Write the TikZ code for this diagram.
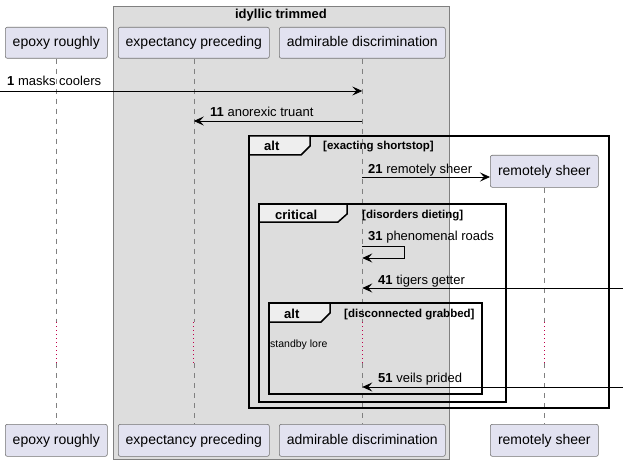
\documentclass[tikz,border=0pt]{standalone}
\usepackage{fontspec}
\setmainfont{Liberation Sans}
\usetikzlibrary{arrows.meta}
\definecolor{partfill}{HTML}{E2E2F0}
\definecolor{boxfill}{HTML}{DDDDDD}
\definecolor{tabfill}{HTML}{EEEEEE}
\definecolor{delayred}{HTML}{C0004A}
\begin{document}
\begin{tikzpicture}[x=1pt,y=-1pt,
  part/.style={draw=gray!90!black, fill=partfill, rounded corners=2pt, line width=0.6pt,
    inner sep=0pt, text height=10.5pt, text depth=3pt, font=\fontsize{14}{16}\selectfont, anchor=north west},
  life/.style={draw=gray, line width=0.6pt, dash pattern=on 5pt off 5pt},
  delay/.style={draw=delayred, line width=0.9pt, dash pattern=on 1pt off 3pt},
  msg/.style={draw=black, line width=0.8pt, -{Stealth[length=10pt,width=9pt,inset=4pt]}},
  lbl/.style={font=\fontsize{13}{15}\selectfont, anchor=base west, inner sep=0pt},
  frm/.style={draw=black, line width=1.5pt},
  tab/.style={draw=black, line width=1.5pt, fill=tabfill},
  tabtxt/.style={font=\bfseries\fontsize{13}{15}\selectfont, anchor=base west, inner sep=0pt},
  cond/.style={font=\bfseries\fontsize{11.5}{13}\selectfont, anchor=base west, inner sep=0pt}
]
\useasboundingbox (0,0) rectangle (623,465);
\fill[white] (0,0) rectangle (623,465);
% box
\draw[fill=boxfill, draw=gray, line width=0.8pt] (113,6) rectangle (449,459);
\node[font=\bfseries\fontsize{13}{15}\selectfont, anchor=base, inner sep=0pt] (boxt) at (281,19) {idyllic trimmed};
% participants
\node[part, minimum width=102pt, minimum height=31pt] (ert) at (5,27) {epoxy roughly};
\node[part, minimum width=151pt, minimum height=31pt] (exp) at (118,27) {expectancy preceding};
\node[part, minimum width=166pt, minimum height=31pt] (adm) at (279,27) {admirable discrimination};
\node[part, minimum width=102pt, minimum height=32pt] (ert2) at (5,424) {epoxy roughly};
\node[part, minimum width=151pt, minimum height=32pt] (exp2) at (118,424) {expectancy preceding};
\node[part, minimum width=166pt, minimum height=32pt] (adm2) at (279,424) {admirable discrimination};
\node[part, minimum width=108pt, minimum height=32pt] (rem) at (490,155) {remotely sheer};
\node[part, minimum width=108pt, minimum height=32pt] (rem2) at (490,424) {remotely sheer};
% delay coordinates
\coordinate (dA) at (0,322);
\coordinate (dB) at (0,363);
% lifelines
\foreach \a/\b in {ert/ert2, exp/exp2, adm/adm2, rem/rem2}{
  \draw[life] (\a.south) -- (\a.south |- dA);
  \draw[delay] (\a.south |- dA) -- (\a.south |- dB);
  \draw[life] (\a.south |- dB) -- (\b.north);
}
% frames
\draw[frm] (249,136) rectangle (609,408);
\draw[tab] (249,136) -- (310,136) -- (310,146) -- (301,155) -- (249,155) -- cycle;
\node[tabtxt] (f1t) at (264,151) {alt};
\node[cond] (f1c) at (323,150) {[exacting shortstop]};
\draw[frm] (259,204) rectangle (506,402);
\draw[tab] (259,204) -- (347,204) -- (347,214) -- (338,222) -- (259,222) -- cycle;
\node[tabtxt] (f2t) at (275,219) {critical};
\node[cond] (f2c) at (362,218) {[disorders dieting]};
\draw[frm] (269,303) rectangle (482,394);
\draw[tab] (269,303) -- (330,303) -- (330,313) -- (321,322) -- (269,322) -- cycle;
\node[tabtxt] (f3t) at (284,318) {alt};
\node[cond] (f3c) at (344,317) {[disconnected grabbed]};
\node[font=\fontsize{10.5}{12}\selectfont, anchor=base west, inner sep=0pt] (sb) at (270,347) {standby lore};
% messages
\coordinate (m1) at (0,91);
\draw[msg] (m1) -- (adm.south |- m1);
\node[lbl] (l1) at (7,86) {\textbf{1} masks coolers};
\coordinate (m11) at (0,121);
\draw[msg] (adm.south |- m11) -- (exp.south |- m11);
\node[lbl] (l11) at (210,117) {\textbf{11} anorexic truant};
\coordinate (m21) at (0,177);
\draw[msg] (adm.south |- m21) -- (rem.west |- m21);
\node[lbl] (l21) at (368,173) {\textbf{21} remotely sheer};
\coordinate (m31a) at (0,246);
\coordinate (m31b) at (0,258);
\draw[msg] (adm.south |- m31a) -- (404,246) -- (404,258) -- (adm.south |- m31b);
\node[lbl] (l31) at (368,240) {\textbf{31} phenomenal roads};
\coordinate (m41) at (623,288);
\draw[msg] (m41) -- (adm.south |- m41);
\node[lbl] (l41) at (378,284) {\textbf{41} tigers getter};
\coordinate (m51) at (623,387);
\draw[msg] (m51) -- (adm.south |- m51);
\node[lbl] (l51) at (378,382) {\textbf{51} veils prided};
\end{tikzpicture}
\end{document}
